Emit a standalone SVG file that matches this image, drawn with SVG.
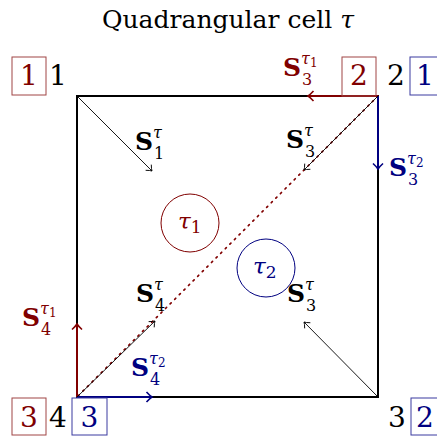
<svg xmlns="http://www.w3.org/2000/svg" width="437" height="437" viewBox="0 0 437 437" font-family="DejaVu Serif, serif">
<defs>
<style type="text/css">
text{font-family:"DejaVu Serif",serif;}
.title{font-size:25px;fill:#000;}
.num{font-size:28px;text-anchor:middle;}
.S{font-size:25px;font-weight:bold;}
.sup,.sub{font-size:16px;font-weight:normal;}
.it{font-style:italic;}
.ss{font-size:12px;font-weight:normal;font-style:normal;}
.red{fill:#800000;}
.blue{fill:#000080;}
.blk{fill:#000;}
.rbox{fill:none;stroke:#a04545;stroke-width:1;}
.bbox{fill:none;stroke:#3a3aa0;stroke-width:1;}
</style>
<marker id="ak" viewBox="-7 -6 8 12" refX="0" refY="0" markerWidth="8" markerHeight="12" markerUnits="userSpaceOnUse" orient="auto" overflow="visible"><path d="M-5,-4 Q-2,-1 0,0 Q-2,1 -5,4" fill="none" stroke="#000" stroke-width="0.9"/></marker>
<marker id="ar" viewBox="-7 -6 8 12" refX="0" refY="0" markerWidth="8" markerHeight="12" markerUnits="userSpaceOnUse" orient="auto" overflow="visible"><path d="M-5.5,-5 Q-2,-1.2 0,0 Q-2,1.2 -5.5,5" fill="none" stroke="#800000" stroke-width="1.6"/></marker>
<marker id="ab" viewBox="-7 -6 8 12" refX="0" refY="0" markerWidth="8" markerHeight="12" markerUnits="userSpaceOnUse" orient="auto" overflow="visible"><path d="M-5.5,-5 Q-2,-1.2 0,0 Q-2,1.2 -5.5,5" fill="none" stroke="#000080" stroke-width="1.6"/></marker>
</defs>

<text class="title" x="228" y="28" text-anchor="middle">Quadrangular cell <tspan class="it">τ</tspan></text>

<g id="cell">
<rect x="77" y="96" width="301" height="301" fill="none" stroke="#000" stroke-width="2"/>
</g>

<g id="connectors">
<line x1="378" y1="96" x2="77" y2="397" stroke="#800000" stroke-width="1.7" stroke-dasharray="1.5 5" stroke-linecap="round"/>
<line x1="378" y1="96" x2="308" y2="96" stroke="#800000" stroke-width="2" marker-end="url(#ar)"/>
<line x1="378" y1="96" x2="378" y2="169" stroke="#000080" stroke-width="2" marker-end="url(#ab)"/>
<line x1="77" y1="397" x2="77" y2="324" stroke="#800000" stroke-width="2" marker-end="url(#ar)"/>
<line x1="77" y1="397" x2="152" y2="397" stroke="#000080" stroke-width="2" marker-end="url(#ab)"/>
<line x1="77" y1="96" x2="152" y2="171" stroke="#000" stroke-width="0.9" marker-end="url(#ak)"/>
<line x1="378" y1="96" x2="304" y2="170" stroke="#000" stroke-width="0.9" marker-end="url(#ak)"/>
<line x1="77" y1="397" x2="155" y2="321" stroke="#000" stroke-width="0.9" marker-end="url(#ak)"/>
<line x1="378" y1="397" x2="304" y2="322" stroke="#000" stroke-width="0.9" marker-end="url(#ak)"/>
</g>

<g id="tau1">
<circle cx="190" cy="223" r="29" fill="none" stroke="#800000" stroke-width="1"/>
<text class="red" x="178" y="229" font-size="23"><tspan class="it">τ</tspan><tspan font-size="17" dy="4">1</tspan></text>
</g>
<g id="tau2">
<circle cx="266" cy="268" r="29" fill="none" stroke="#000080" stroke-width="1"/>
<text class="blue" x="253" y="274" font-size="23"><tspan class="it">τ</tspan><tspan font-size="17" dy="4">2</tspan></text>
</g>

<g id="v1">
<rect class="rbox" x="12" y="57" width="34" height="38"/>
<text class="num red" x="29" y="85">1</text>
<text class="num blk" x="58" y="85">1</text>
</g>
<g id="v2">
<rect class="rbox" x="342" y="57" width="34" height="39"/>
<text class="num red" x="359" y="85">2</text>
<text class="num blk" x="396" y="85">2</text>
<rect class="bbox" x="410" y="57" width="34" height="38"/>
<text class="num blue" x="425" y="85">1</text>
</g>
<g id="v4">
<rect class="rbox" x="12" y="398" width="34" height="37"/>
<text class="num red" x="29" y="427">3</text>
<text class="num blk" x="58" y="427">4</text>
<rect class="bbox" x="72" y="398" width="35" height="37"/>
<text class="num blue" x="89.5" y="427">3</text>
</g>
<g id="v3">
<text class="num blk" x="397" y="427">3</text>
<rect class="bbox" x="411" y="398" width="34" height="37"/>
<text class="num blue" x="425" y="427">2</text>
</g>

<g id="labels">
<text class="S blk" x="135" y="150">S<tspan class="sup it" dy="-12">τ</tspan><tspan class="sub" x="154" dy="21">1</tspan></text>
<text class="S blk" x="286" y="148">S<tspan class="sup it" dy="-12">τ</tspan><tspan class="sub" x="305" dy="21">3</tspan></text>
<text class="S blk" x="136" y="302">S<tspan class="sup it" dy="-12">τ</tspan><tspan class="sub" x="155" dy="21">4</tspan></text>
<text class="S blk" x="287" y="302">S<tspan class="sup it" dy="-12">τ</tspan><tspan class="sub" x="306" dy="21">3</tspan></text>
<text class="S red" x="283" y="76">S<tspan class="sup it" dy="-12">τ</tspan><tspan class="ss" dy="3">1</tspan><tspan class="sub" x="302" dy="18">3</tspan></text>
<text class="S blue" x="389" y="176">S<tspan class="sup it" dy="-12">τ</tspan><tspan class="ss" dy="3">2</tspan><tspan class="sub" x="408" dy="18">3</tspan></text>
<text class="S red" x="22" y="326">S<tspan class="sup it" dy="-12">τ</tspan><tspan class="ss" dy="3">1</tspan><tspan class="sub" x="41" dy="18">4</tspan></text>
<text class="S blue" x="131" y="376">S<tspan class="sup it" dy="-12">τ</tspan><tspan class="ss" dy="3">2</tspan><tspan class="sub" x="150" dy="18">4</tspan></text>
</g>
</svg>
